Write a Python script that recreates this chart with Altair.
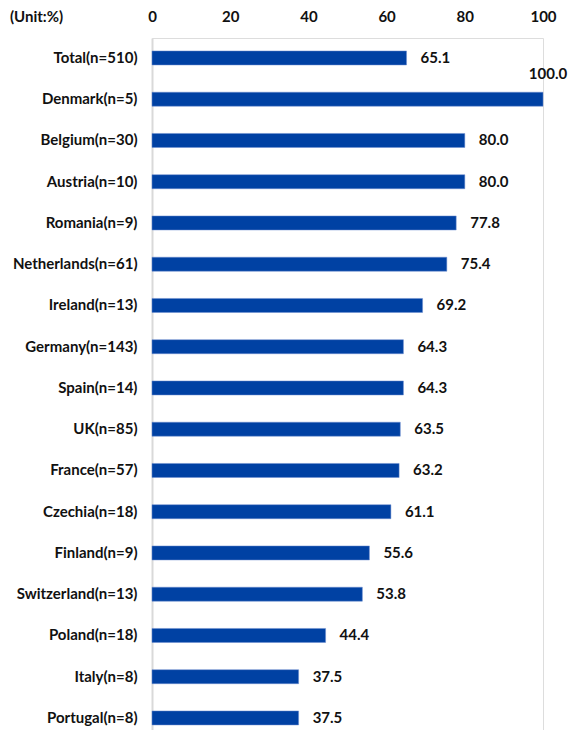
import altair as alt
import pandas as pd

categories = ["Total(n=510)", "Denmark(n=5)", "Belgium(n=30)", "Austria(n=10)", "Romania(n=9)",
              "Netherlands(n=61)", "Ireland(n=13)", "Germany(n=143)", "Spain(n=14)", "UK(n=85)",
              "France(n=57)", "Czechia(n=18)", "Finland(n=9)", "Switzerland(n=13)", "Poland(n=18)",
              "Italy(n=8)", "Portugal(n=8)"]
values = [65.1, 100.0, 80.0, 80.0, 77.8, 75.4, 69.2, 64.3, 64.3, 63.5, 63.2, 61.1, 55.6, 53.8, 44.4, 37.5, 37.5]
x_ticks = [0, 20, 40, 60, 80, 100]

df = pd.DataFrame({"cat": categories, "val": values})
FONT = "Lato"
TXT = "#111111"
FS = 15

yenc = alt.Y("cat:N", sort=categories,
             scale=alt.Scale(paddingInner=0.66, paddingOuter=0.218, align=0.72),
             axis=alt.Axis(title=None, domainColor="#d9d9d9", domainWidth=2, ticks=False,
                           labelFont=FONT, labelFontSize=FS, labelFontWeight="bold",
                           labelColor=TXT, labelPadding=15))
xenc = alt.X("val:Q", scale=alt.Scale(domain=[0, 100], nice=False),
             axis=alt.Axis(orient="top", values=x_ticks, title=None, grid=False, domain=False,
                           ticks=False, labelFlush=False, labelFont=FONT, labelFontSize=FS,
                           labelFontWeight="bold", labelColor=TXT, labelPadding=14))

base = alt.Chart(df)
bars = base.mark_bar(color="#0041A3", stroke="#6f8fd0", strokeWidth=0.5).encode(x=xenc, y=yenc)
labels = base.transform_filter("datum.val < 100").mark_text(
    align="left", dx=14, font=FONT, fontSize=FS, fontWeight="bold", color=TXT
).encode(x="val:Q", y=alt.Y("cat:N", sort=categories), text=alt.Text("val:Q", format=".1f"))
top_label = base.transform_filter("datum.val >= 100").mark_text(
    align="center", dx=5, dy=-25, font=FONT, fontSize=FS, fontWeight="bold", color=TXT
).encode(x="val:Q", y=alt.Y("cat:N", sort=categories), text=alt.Text("val:Q", format=".1f"))
unit = alt.Chart(pd.DataFrame({"t": ["(Unit:%)"]})).mark_text(
    align="left", baseline="middle", font=FONT, fontSize=FS, fontWeight="bold", color=TXT
).encode(x=alt.value(-142), y=alt.value(-21), text="t:N")

chart = alt.layer(bars, labels, top_label, unit).properties(
    width=391, height=692,
    autosize=alt.AutoSizeParams(type="none"),
    padding={"left": 152, "top": 38, "right": 25, "bottom": 0},
).configure_view(stroke=None).configure(background="white")

chart.save("out.html", embed_options={"renderer": "svg", "actions": False})
